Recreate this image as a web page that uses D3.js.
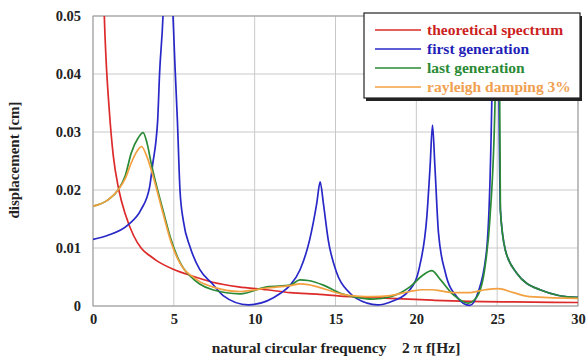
<!DOCTYPE html>
<html><head><meta charset="utf-8">
<script src="https://cdn.jsdelivr.net/npm/d3@7/dist/d3.min.js"></script>
<style>body{margin:0;background:#fff}svg{display:block}</style>
</head><body><svg id="c" width="587" height="360"></svg>
<script>
const xTicks = [0,5,10,15,20,25,30];
const yTicks = [0,0.01,0.02,0.03,0.04,0.05];
const yTickLabels = ["0","0.01","0.02","0.03","0.04","0.05"];
const seriesNames = ["theoretical spectrum","first generation","last generation","rayleigh damping 3%"];
const seriesColors = ["#dd2a2a","#2828c8","#2a8a35","#f3a040"];
const legendText = ["#cc1f1f","#1f1fb8","#2a8a35","#f0a050"];

const theoretical = [[0.62,0.06],[0.7,0.05],[0.8,0.043],[1.0,0.034],[1.25,0.026],[1.6,0.02],[2.0,0.0158],[2.5,0.0122],[3.0,0.0099],[3.5,0.0087],[4.0,0.0077],[5.0,0.0063],[6.0,0.0053],[7.4,0.0041],[9.0,0.0033],[10.75,0.0028],[12.2,0.0023],[14.0,0.002],[15.3,0.0017],[17.0,0.0015],[18.4,0.0013],[21.0,0.001],[23.3,0.0008],[26.0,0.0007],[30.0,0.0006]];
const firstGen = [[0,0.0115],[0.93,0.0122],[2.17,0.014],[2.97,0.0166],[3.5,0.0205],[3.7,0.0246],[3.9,0.0286],[4.0,0.032],[4.12,0.0402],[4.33,0.05],[4.5,0.065],[4.8,0.065],[4.95,0.05],[5.09,0.0402],[5.22,0.032],[5.38,0.02],[5.6,0.0145],[6.0,0.0102],[6.6,0.0063],[7.4,0.0038],[8.05,0.0018],[9.6,0.0002],[11.6,0.0022],[12.2,0.0036],[12.8,0.0062],[13.4,0.0114],[13.84,0.0177],[14.05,0.0214],[14.25,0.0177],[14.55,0.0114],[15.08,0.0057],[15.9,0.0022],[16.95,0.0005],[17.6,0.0002],[18.4,0.0007],[19.6,0.0028],[20.2,0.0068],[20.65,0.0154],[20.85,0.024],[21.0,0.0312],[21.15,0.024],[21.37,0.0126],[21.8,0.0057],[22.5,0.0016],[23.3,0.0001],[23.8,0.0022],[24.35,0.0097],[24.67,0.0355],[24.8,0.06],[25.0,0.06],[25.2,0.0165],[25.5,0.0097],[26.2,0.0057],[27.65,0.0028],[29.9,0.0015],[30,0.0015]];
const lastGen = [[0,0.0172],[0.93,0.0183],[1.55,0.02],[2.0,0.0225],[2.37,0.0264],[2.8,0.029],[3.1,0.0299],[3.35,0.028],[3.6,0.0246],[4.33,0.0165],[4.83,0.0114],[5.67,0.0062],[6.0,0.0052],[6.6,0.0038],[7.4,0.0028],[9.1,0.0021],[10.75,0.0033],[12.2,0.0036],[12.8,0.0045],[13.3,0.0044],[14.25,0.0036],[15.3,0.0022],[16.3,0.0015],[17.3,0.0012],[18.4,0.0016],[19.6,0.0033],[20.4,0.0053],[20.95,0.0061],[21.5,0.0045],[22.3,0.0019],[23.2,0.0005],[23.75,0.0016],[24.25,0.0068],[24.56,0.0154],[24.87,0.0355],[24.97,0.06],[25.1,0.06],[25.2,0.0165],[25.5,0.0097],[26.2,0.0057],[27.65,0.0028],[29.9,0.0015],[30,0.0015]];
const rayleigh = [[0,0.0172],[0.93,0.0183],[1.55,0.02],[2.0,0.022],[2.37,0.0247],[2.75,0.0268],[3.0,0.0275],[3.3,0.026],[3.6,0.0235],[4.33,0.016],[4.83,0.011],[5.67,0.0062],[6.0,0.0054],[6.6,0.0042],[7.4,0.0033],[9.1,0.0025],[10.75,0.0031],[12.2,0.0035],[12.8,0.0038],[13.3,0.0037],[14.25,0.003],[15.3,0.0021],[16.3,0.0017],[17.3,0.0016],[18.4,0.0018],[19.6,0.0025],[20.4,0.0028],[21.0,0.0028],[21.5,0.0026],[22.3,0.0023],[23.2,0.0023],[24.25,0.0028],[25.06,0.003],[26.0,0.0023],[27.0,0.0016],[29.9,0.0013],[30,0.0013]];
const allSeries = [theoretical, firstGen, lastGen, rayleigh];

const svg = d3.select("#c");
const L=93, R=578, T=16, B=306;
const x = d3.scaleLinear().domain([0,30]).range([L,R]);
const y = d3.scaleLinear().domain([0,0.05]).range([B,T]);
const serif = "'Liberation Serif','Times New Roman',serif";

// grid
svg.append("g").selectAll("line.v").data(xTicks).join("line")
  .attr("x1",d=>x(d)).attr("x2",d=>x(d)).attr("y1",T).attr("y2",B)
  .attr("stroke","#c9c9c9").attr("stroke-width",1);
svg.append("g").selectAll("line.h").data(yTicks).join("line")
  .attr("x1",L).attr("x2",R).attr("y1",d=>y(d)).attr("y2",d=>y(d))
  .attr("stroke","#c9c9c9").attr("stroke-width",1);
svg.append("rect").attr("x",L).attr("y",T).attr("width",R-L).attr("height",B-T)
  .attr("fill","none").attr("stroke","#9a9a9a").attr("stroke-width",1);

// axes labels
const xa = svg.append("g").attr("transform",`translate(0,${B})`)
  .call(d3.axisBottom(x).tickValues(xTicks).tickSize(0).tickPadding(8).tickFormat(d3.format("d")));
xa.select(".domain").remove();
xa.selectAll("text").attr("font-family",serif).attr("font-weight","bold").attr("font-size",14.5).attr("fill","#222");
const ya = svg.append("g").attr("transform",`translate(${L},0)`)
  .call(d3.axisLeft(y).tickValues(yTicks).tickSize(0).tickPadding(12).tickFormat((d,i)=>yTickLabels[i]));
ya.select(".domain").remove();
ya.selectAll("text").attr("font-family",serif).attr("font-weight","bold").attr("font-size",14.5).attr("fill","#222");

svg.append("text").attr("x",336).attr("y",353).attr("text-anchor","middle")
  .attr("font-family",serif).attr("font-weight","bold").attr("font-size",15.5).attr("fill","#222")
  .attr("xml:space","preserve").text("natural circular frequency    2 \u03C0 f[Hz]");
svg.append("text").attr("transform","translate(19,160) rotate(-90)").attr("text-anchor","middle")
  .attr("font-family",serif).attr("font-weight","bold").attr("font-size",15).attr("fill","#222")
  .text("displacement [cm]");

// clip
svg.append("clipPath").attr("id","pc").append("rect").attr("x",L).attr("y",T).attr("width",R-L).attr("height",B-T+2);
const line = d3.line().x(d=>x(d[0])).y(d=>y(d[1])).curve(d3.curveMonotoneX);
const gl = svg.append("g").attr("clip-path","url(#pc)");
allSeries.forEach((s,i)=>{
  gl.append("path").attr("d",line(s)).attr("fill","none")
    .attr("stroke",seriesColors[i]).attr("stroke-width",1.7).attr("stroke-linejoin","round");
});

// legend
const lg = svg.append("g");
lg.append("rect").attr("x",366).attr("y",16).attr("width",216).attr("height",85).attr("fill","#222");
lg.append("rect").attr("x",364).attr("y",13).attr("width",216).attr("height",85).attr("fill","#fff").attr("stroke","#222").attr("stroke-width",1.2);
seriesNames.forEach((n,i)=>{
  const yy = 30 + i*19;
  lg.append("line").attr("x1",375).attr("x2",421).attr("y1",yy).attr("y2",yy)
    .attr("stroke",seriesColors[i]).attr("stroke-width",1.5);
  lg.append("text").attr("x",427).attr("y",yy+5).attr("font-family",serif).attr("font-weight","bold")
    .attr("font-size",15.5).attr("fill",legendText[i]).text(n);
});
</script></body></html>
